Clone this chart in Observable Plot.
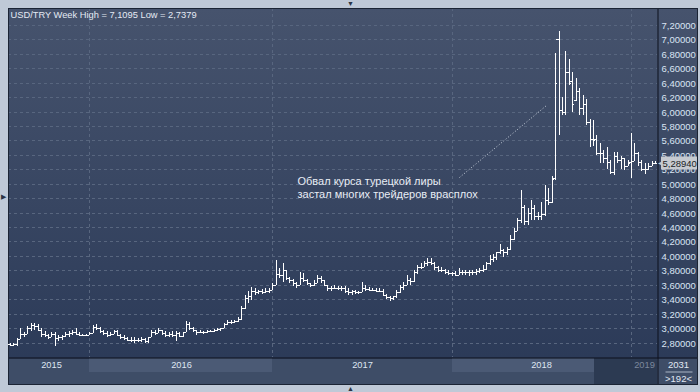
<!DOCTYPE html>
<html><head><meta charset="utf-8">
<script src="https://cdn.jsdelivr.net/npm/d3@7"></script>
<script src="https://cdn.jsdelivr.net/npm/@observablehq/plot@0.6"></script>
<style>html,body{margin:0;padding:0;background:#bfc9d7;overflow:hidden}</style>
</head><body><div id="chart"></div>
<script>
// Weekly USD/TRY bars (week index 0 = late July 2015)
const opens = [2.78,2.76,2.78,2.85,2.92,2.92,3.00,3.04,3.03,2.98,2.92,2.90,2.88,2.92,2.86,2.87,2.89,2.92,2.93,2.95,2.92,2.91,2.91,2.91,2.93,3.01,3.00,2.96,2.93,2.90,2.92,2.96,2.91,2.87,2.86,2.84,2.83,2.84,2.83,2.85,2.82,2.87,2.95,2.93,2.97,2.93,2.90,2.92,2.90,2.93,2.89,2.94,3.05,3.00,2.97,2.94,2.95,2.94,2.96,2.96,2.98,2.99,3.00,3.05,3.09,3.08,3.10,3.12,3.28,3.42,3.45,3.52,3.50,3.51,3.50,3.52,3.53,3.60,3.75,3.74,3.80,3.70,3.66,3.62,3.60,3.70,3.66,3.62,3.60,3.62,3.70,3.66,3.60,3.55,3.55,3.56,3.55,3.56,3.52,3.50,3.51,3.50,3.50,3.56,3.54,3.53,3.53,3.52,3.52,3.46,3.43,3.42,3.44,3.50,3.57,3.60,3.66,3.65,3.78,3.85,3.84,3.90,3.92,3.90,3.84,3.80,3.80,3.77,3.76,3.76,3.74,3.78,3.77,3.78,3.77,3.78,3.79,3.80,3.82,3.90,3.96,3.98,4.05,4.08,4.06,4.10,4.24,4.35,4.50,4.68,4.48,4.60,4.67,4.55,4.55,4.58,4.78,4.75,5.08,7.00,6.02,6.00,6.55,6.42,6.16,6.28,6.05,6.10,5.85,5.62,5.62,5.42,5.43,5.35,5.30,5.16,5.38,5.33,5.35,5.24,5.30,5.31,5.42,5.30,5.20,5.21,5.25,5.28];
const highs = [2.79,2.80,2.86,3.00,2.94,3.03,3.07,3.07,3.05,3.00,2.96,2.92,2.94,2.94,2.90,2.91,2.94,2.96,2.98,3.00,2.94,2.92,2.92,2.94,3.04,3.05,3.01,2.98,2.96,2.95,2.98,2.98,2.92,2.90,2.88,2.87,2.87,2.86,2.87,2.86,2.88,2.98,2.98,3.00,2.98,2.96,2.94,2.96,2.96,2.94,2.95,3.10,3.09,3.02,2.98,2.97,2.96,2.98,2.97,2.99,3.00,3.00,3.07,3.11,3.11,3.11,3.15,3.30,3.46,3.52,3.57,3.55,3.53,3.54,3.55,3.55,3.63,3.94,3.83,3.90,3.80,3.71,3.68,3.64,3.78,3.76,3.68,3.63,3.66,3.74,3.72,3.66,3.60,3.58,3.60,3.58,3.58,3.58,3.55,3.53,3.53,3.52,3.64,3.60,3.57,3.56,3.56,3.55,3.54,3.47,3.45,3.45,3.53,3.60,3.64,3.74,3.70,3.80,3.88,3.90,3.93,3.97,3.97,3.91,3.86,3.85,3.82,3.81,3.78,3.79,3.83,3.81,3.81,3.80,3.81,3.82,3.83,3.88,3.92,4.01,4.03,4.06,4.17,4.10,4.12,4.29,4.38,4.52,4.91,4.71,4.66,4.78,4.70,4.61,4.75,4.98,4.94,5.11,6.81,7.11,6.20,6.84,6.73,6.55,6.46,6.32,6.23,6.18,5.90,5.88,5.68,5.56,5.47,5.51,5.33,5.44,5.44,5.39,5.36,5.33,5.70,5.56,5.44,5.33,5.28,5.29,5.31,5.31];
const lows = [2.745,2.75,2.75,2.85,2.88,2.92,2.96,2.98,2.96,2.87,2.88,2.85,2.87,2.745,2.82,2.84,2.87,2.88,2.91,2.90,2.89,2.89,2.89,2.90,2.93,2.98,2.93,2.90,2.88,2.89,2.92,2.90,2.85,2.84,2.82,2.81,2.80,2.81,2.81,2.80,2.79,2.87,2.90,2.93,2.90,2.87,2.88,2.88,2.82,2.87,2.87,2.94,2.98,2.95,2.91,2.93,2.92,2.93,2.94,2.95,2.96,2.96,3.00,3.04,3.05,3.07,3.08,3.11,3.26,3.35,3.39,3.46,3.47,3.47,3.49,3.49,3.53,3.60,3.69,3.64,3.67,3.62,3.58,3.55,3.60,3.64,3.60,3.57,3.58,3.62,3.62,3.58,3.52,3.52,3.54,3.53,3.52,3.49,3.46,3.46,3.47,3.47,3.50,3.51,3.51,3.51,3.50,3.51,3.45,3.40,3.38,3.39,3.42,3.48,3.53,3.60,3.60,3.64,3.75,3.82,3.84,3.86,3.88,3.81,3.78,3.78,3.75,3.74,3.72,3.72,3.74,3.74,3.73,3.72,3.74,3.74,3.76,3.77,3.80,3.88,3.92,3.94,4.03,3.99,4.01,4.08,4.22,4.34,4.45,4.43,4.43,4.50,4.50,4.50,4.50,4.55,4.70,4.73,5.05,5.67,5.95,5.95,6.37,6.00,6.14,5.95,5.95,5.81,5.51,5.52,5.40,5.28,5.28,5.21,5.14,5.12,5.28,5.21,5.19,5.24,5.08,5.31,5.24,5.17,5.14,5.19,5.24,5.27];
const closes = [2.76,2.78,2.85,2.92,2.92,3.00,3.04,3.03,2.98,2.92,2.90,2.88,2.92,2.86,2.87,2.89,2.92,2.93,2.95,2.92,2.91,2.91,2.91,2.93,3.01,3.00,2.96,2.93,2.90,2.92,2.96,2.91,2.87,2.86,2.84,2.83,2.84,2.83,2.85,2.82,2.87,2.95,2.93,2.97,2.93,2.90,2.92,2.90,2.93,2.89,2.94,3.05,3.00,2.97,2.94,2.95,2.94,2.96,2.96,2.98,2.99,3.00,3.05,3.09,3.08,3.10,3.12,3.28,3.42,3.45,3.52,3.50,3.51,3.50,3.52,3.53,3.60,3.75,3.74,3.80,3.70,3.66,3.62,3.60,3.70,3.66,3.62,3.60,3.62,3.70,3.66,3.60,3.55,3.55,3.56,3.55,3.56,3.52,3.50,3.51,3.50,3.50,3.56,3.54,3.53,3.53,3.52,3.52,3.46,3.43,3.42,3.44,3.50,3.57,3.60,3.66,3.65,3.78,3.85,3.84,3.90,3.92,3.90,3.84,3.80,3.80,3.77,3.76,3.76,3.74,3.78,3.77,3.78,3.77,3.78,3.79,3.80,3.82,3.90,3.96,3.98,4.05,4.08,4.06,4.10,4.24,4.35,4.50,4.68,4.48,4.60,4.67,4.55,4.55,4.58,4.78,4.75,5.07,6.40,6.02,6.00,6.55,6.40,6.10,6.28,6.05,6.10,5.85,5.62,5.60,5.42,5.43,5.35,5.30,5.16,5.38,5.33,5.35,5.24,5.29,5.31,5.42,5.30,5.20,5.21,5.25,5.28,5.2894];

const yTicks = [2.8,3.0,3.2,3.4,3.6,3.8,4.0,4.2,4.4,4.6,4.8,5.0,5.2,5.4,5.6,5.8,6.0,6.2,6.4,6.6,6.8,7.0,7.2];
const yearStarts = [23, 76, 128, 180];
const yearLabels = ["2015", "2016", "2017", "2018"];
const yearLabelPos = [11.9, 49.5, 102, 154];
const currentYearLabel = ["2019"];
const currentYearPos = [183.7];
const bandRanges = [[23, 76], [128, 169.3]];
const windowRange = [[169.3, 187.6]];
const titleText = "USD/TRY Week High = 7,1095 Low = 2,7379";
const noteLines = ["Обвал курса турецкой лиры", "застал многих трейдеров врасплох"];
const notePos = [83.2, 4.96];
const arrowFrom = [130, 5.09];
const arrowTo = [155.3, 6.09];
const lastPrice = 5.2894;
const cornerTop = "2031";
const cornerBottom = ">192<";

const bars = opens.map((o, i) => ({i, open: o, high: highs[i], low: lows[i], close: closes[i]}));
const fmt = v => v.toFixed(5).replace(".", ",");
const white = "#ffffff";
const gridColor = "#58667f";

const chart = Plot.plot({
  width: 700, height: 392,
  marginLeft: 8, marginRight: 43, marginTop: 8, marginBottom: 35,
  style: {background: "#bfc9d7", color: "#dbe4f2", fontFamily: "'Liberation Sans', Arial, sans-serif", fontSize: "9.5px"},
  x: {domain: [0, 187], range: [10, 655.15], round: true, axis: null},
  y: {domain: [2.8, 7.2], range: [342.5, 24.9], round: true, axis: null},
  marks: [
    // panel background
    Plot.frame({fill: "url(#panelGrad)", stroke: "none", insetRight: -40, insetBottom: -27}),
    // bottom strip
    Plot.frame({fill: "#3e4d67", stroke: "none", insetTop: 350, insetRight: -40, insetBottom: -27}),
    Plot.rect(bandRanges, {x1: d => d[0], x2: d => d[1], fill: "#4b5a75", insetTop: 350, insetBottom: -15}),
    Plot.rect(windowRange, {x1: d => d[0], x2: d => d[1], fill: "#2c3a52", insetTop: 350, insetBottom: -27}),
    // grid
    Plot.ruleY(yTicks, {stroke: gridColor, strokeDasharray: "3,3"}),
    Plot.ruleX(yearStarts, {stroke: gridColor, strokeDasharray: "3,3"}),
    // separators
    Plot.frame({fill: "#0c111c", stroke: "none", insetTop: 349, insetBottom: -1, insetRight: -40}),
    Plot.frame({fill: "#0c111c", stroke: "none", insetLeft: 649, insetRight: -1, insetBottom: -27}),
    // panel border
    Plot.frame({stroke: "#1b2434", insetRight: -40, insetBottom: -27}),
    // OHLC bars
    Plot.ruleX(bars, {x: "i", y1: "low", y2: "high", stroke: white}),
    Plot.ruleY(bars, {y: "open", x1: d => d.i - 0.6, x2: "i", stroke: white}),
    Plot.ruleY(bars, {y: "close", x1: "i", x2: d => d.i + 0.6, stroke: white}),
    // right axis labels
    Plot.text(yTicks, {y: d => d, text: fmt, frameAnchor: "right", dx: 4, textAnchor: "start", lineAnchor: "middle", fill: "#dbe5f4", fontSize: 9.5}),
    // current price label
    Plot.rect([lastPrice], {y1: d => d, y2: d => d, fill: "#c6cad0", insetLeft: 653, insetRight: -40, insetTop: -6.5, insetBottom: -6.5}),
    Plot.text([lastPrice], {y: d => d, text: () => "◀", frameAnchor: "right", dx: 5, textAnchor: "end", lineAnchor: "middle", fill: "#c6cad0", fontSize: 6}),
    Plot.text([lastPrice], {y: d => d, text: fmt, frameAnchor: "right", dx: 5, textAnchor: "start", lineAnchor: "middle", fill: "#1a1e26", fontSize: 9.5}),
    // year labels
    Plot.text(yearLabels, {x: (d, i) => yearLabelPos[i], text: d => d, frameAnchor: "bottom", dy: 8, textAnchor: "middle", lineAnchor: "middle", fill: "#dfe6f2", fontSize: 9.3}),
    Plot.text(currentYearLabel, {x: (d, i) => currentYearPos[i], text: d => d, frameAnchor: "bottom", dy: 8, textAnchor: "middle", lineAnchor: "middle", fill: "#7c889d", fontSize: 9.3}),
    // bottom-right corner
    Plot.text([cornerTop], {text: d => d, frameAnchor: "bottom-right", dx: 21, dy: 7, textAnchor: "middle", lineAnchor: "middle", fill: "#e1e8f3", fontSize: 9.5}),
    Plot.frame({fill: "#aab5c6", stroke: "none", insetLeft: 657, insetRight: -35, insetTop: 363, insetBottom: -15}),
    Plot.text([cornerBottom], {text: d => d, frameAnchor: "bottom-right", dx: 21, dy: 21, textAnchor: "middle", lineAnchor: "middle", fill: "#e1e8f3", fontSize: 9.5}),
    // title
    Plot.text([titleText], {text: d => d, frameAnchor: "top-left", dx: 2, dy: 7, textAnchor: "start", lineAnchor: "middle", fill: "#e4eaf4", fontSize: 9.3}),
    // annotation
    Plot.link([0], {x1: () => arrowFrom[0], y1: () => arrowFrom[1], x2: () => arrowTo[0], y2: () => arrowTo[1], stroke: "#c9d1dd", strokeDasharray: "1,2"}),
    Plot.text([noteLines.join("\n")], {x: () => notePos[0], y: () => notePos[1], text: d => d, textAnchor: "start", lineAnchor: "middle", lineHeight: 1.2, fill: "#e8edf5", fontSize: 11}),
    // window UI markers
    Plot.text(["▼"], {text: d => d, frameAnchor: "top", dx: 17.5, dy: -4.5, textAnchor: "middle", lineAnchor: "middle", fill: "#2a3344", fontSize: 7}),
    Plot.text(["▲"], {text: d => d, frameAnchor: "bottom", dx: 17.5, dy: 31.5, textAnchor: "middle", lineAnchor: "middle", fill: "#2a3344", fontSize: 7}),
    Plot.text(["▶"], {text: d => d, frameAnchor: "left", dx: -5, dy: 14, textAnchor: "middle", lineAnchor: "middle", fill: "#2a3344", fontSize: 7})
  ]
});

d3.select(chart).insert("defs", ":first-child").html(
  '<linearGradient id="panelGrad" x1="0" y1="0" x2="0" y2="1">' +
  '<stop offset="0" stop-color="#46536d"/><stop offset="1" stop-color="#2a3957"/></linearGradient>');
document.getElementById("chart").appendChild(chart);
</script>
</body></html>
